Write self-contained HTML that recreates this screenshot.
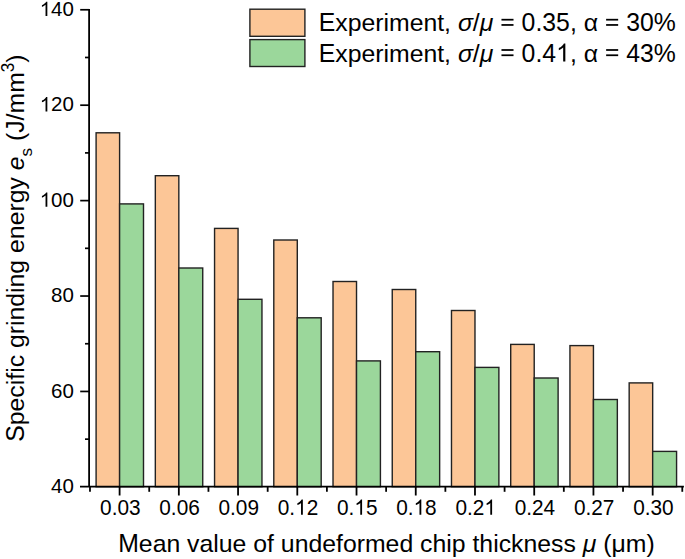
<!DOCTYPE html>
<html><head><meta charset="utf-8"><style>
html,body{margin:0;padding:0;background:#fff;}
svg{display:block;}
text{font-family:"Liberation Sans",sans-serif;fill:#000;white-space:pre;}
</style></head><body>
<svg width="685" height="559" viewBox="0 0 685 559">
<rect x="96.10" y="132.80" width="23.50" height="353.90" fill="#fcc697" stroke="#222" stroke-width="1.4"/>
<rect x="119.60" y="203.90" width="23.90" height="282.80" fill="#9bd79b" stroke="#222" stroke-width="1.4"/>
<rect x="155.33" y="175.70" width="23.50" height="311.00" fill="#fcc697" stroke="#222" stroke-width="1.4"/>
<rect x="178.83" y="268.00" width="23.90" height="218.70" fill="#9bd79b" stroke="#222" stroke-width="1.4"/>
<rect x="214.56" y="228.40" width="23.50" height="258.30" fill="#fcc697" stroke="#222" stroke-width="1.4"/>
<rect x="238.06" y="299.30" width="23.90" height="187.40" fill="#9bd79b" stroke="#222" stroke-width="1.4"/>
<rect x="273.79" y="240.00" width="23.50" height="246.70" fill="#fcc697" stroke="#222" stroke-width="1.4"/>
<rect x="297.29" y="317.80" width="23.90" height="168.90" fill="#9bd79b" stroke="#222" stroke-width="1.4"/>
<rect x="333.02" y="281.50" width="23.50" height="205.20" fill="#fcc697" stroke="#222" stroke-width="1.4"/>
<rect x="356.52" y="360.90" width="23.90" height="125.80" fill="#9bd79b" stroke="#222" stroke-width="1.4"/>
<rect x="392.25" y="289.50" width="23.50" height="197.20" fill="#fcc697" stroke="#222" stroke-width="1.4"/>
<rect x="415.75" y="351.70" width="23.90" height="135.00" fill="#9bd79b" stroke="#222" stroke-width="1.4"/>
<rect x="451.48" y="310.50" width="23.50" height="176.20" fill="#fcc697" stroke="#222" stroke-width="1.4"/>
<rect x="474.98" y="367.40" width="23.90" height="119.30" fill="#9bd79b" stroke="#222" stroke-width="1.4"/>
<rect x="510.71" y="344.40" width="23.50" height="142.30" fill="#fcc697" stroke="#222" stroke-width="1.4"/>
<rect x="534.21" y="378.00" width="23.90" height="108.70" fill="#9bd79b" stroke="#222" stroke-width="1.4"/>
<rect x="569.94" y="345.60" width="23.50" height="141.10" fill="#fcc697" stroke="#222" stroke-width="1.4"/>
<rect x="593.44" y="399.50" width="23.90" height="87.20" fill="#9bd79b" stroke="#222" stroke-width="1.4"/>
<rect x="629.17" y="382.90" width="23.50" height="103.80" fill="#fcc697" stroke="#222" stroke-width="1.4"/>
<rect x="652.67" y="451.40" width="23.90" height="35.30" fill="#9bd79b" stroke="#222" stroke-width="1.4"/>
<line x1="89.1" y1="8.9" x2="89.1" y2="486.7" stroke="#000" stroke-width="1.8"/>
<line x1="80" y1="486.7" x2="683.9" y2="486.7" stroke="#000" stroke-width="1.8"/>
<text transform="translate(51.10,493.07) scale(1,1.0)" font-size="20.5" xml:space="preserve">40</text>
<line x1="85" y1="439.16" x2="89.1" y2="439.16" stroke="#000" stroke-width="1.7"/>
<line x1="80.2" y1="391.45" x2="89.1" y2="391.45" stroke="#000" stroke-width="1.7"/>
<text transform="translate(51.10,397.65) scale(1,1.0)" font-size="20.5" xml:space="preserve">60</text>
<line x1="85" y1="343.74" x2="89.1" y2="343.74" stroke="#000" stroke-width="1.7"/>
<line x1="80.2" y1="296.03" x2="89.1" y2="296.03" stroke="#000" stroke-width="1.7"/>
<text transform="translate(51.10,302.23) scale(1,1.0)" font-size="20.5" xml:space="preserve">80</text>
<line x1="85" y1="248.32" x2="89.1" y2="248.32" stroke="#000" stroke-width="1.7"/>
<line x1="80.2" y1="200.61" x2="89.1" y2="200.61" stroke="#000" stroke-width="1.7"/>
<text transform="translate(39.70,206.81) scale(1,1.0)" font-size="20.5" xml:space="preserve"> 00</text>
<path d="M763 0L583 0L583 1147Q518 1085 415 1024Q312 964 223 931L223 1105Q374 1176 485 1275Q596 1374 646 1466L763 1466Z" transform="translate(39.70,206.81) scale(0.01001,-0.00976)"/>
<line x1="85" y1="152.90" x2="89.1" y2="152.90" stroke="#000" stroke-width="1.7"/>
<line x1="80.2" y1="105.19" x2="89.1" y2="105.19" stroke="#000" stroke-width="1.7"/>
<text transform="translate(39.70,111.39) scale(1,1.0)" font-size="20.5" xml:space="preserve"> 20</text>
<path d="M763 0L583 0L583 1147Q518 1085 415 1024Q312 964 223 931L223 1105Q374 1176 485 1275Q596 1374 646 1466L763 1466Z" transform="translate(39.70,111.39) scale(0.01001,-0.00976)"/>
<line x1="85" y1="57.48" x2="89.1" y2="57.48" stroke="#000" stroke-width="1.7"/>
<line x1="80.2" y1="9.77" x2="89.1" y2="9.77" stroke="#000" stroke-width="1.7"/>
<text transform="translate(39.70,15.97) scale(1,1.0)" font-size="20.5" xml:space="preserve"> 40</text>
<path d="M763 0L583 0L583 1147Q518 1085 415 1024Q312 964 223 931L223 1105Q374 1176 485 1275Q596 1374 646 1466L763 1466Z" transform="translate(39.70,15.97) scale(0.01001,-0.00976)"/>
<line x1="119.60" y1="486.7" x2="119.60" y2="495.5" stroke="#000" stroke-width="1.8"/>
<text transform="translate(100.06,514.70) scale(1,1.04)" font-size="20.8" xml:space="preserve">0.03</text>
<line x1="178.83" y1="486.7" x2="178.83" y2="495.5" stroke="#000" stroke-width="1.8"/>
<text transform="translate(159.29,514.70) scale(1,1.04)" font-size="20.8" xml:space="preserve">0.06</text>
<line x1="238.06" y1="486.7" x2="238.06" y2="495.5" stroke="#000" stroke-width="1.8"/>
<text transform="translate(218.52,514.70) scale(1,1.04)" font-size="20.8" xml:space="preserve">0.09</text>
<line x1="297.29" y1="486.7" x2="297.29" y2="495.5" stroke="#000" stroke-width="1.8"/>
<text transform="translate(277.75,514.70) scale(1,1.04)" font-size="20.8" xml:space="preserve">0. 2</text>
<path d="M763 0L583 0L583 1147Q518 1085 415 1024Q312 964 223 931L223 1105Q374 1176 485 1275Q596 1374 646 1466L763 1466Z" transform="translate(295.10,514.70) scale(0.01016,-0.01030)"/>
<line x1="356.52" y1="486.7" x2="356.52" y2="495.5" stroke="#000" stroke-width="1.8"/>
<text transform="translate(336.98,514.70) scale(1,1.04)" font-size="20.8" xml:space="preserve">0. 5</text>
<path d="M763 0L583 0L583 1147Q518 1085 415 1024Q312 964 223 931L223 1105Q374 1176 485 1275Q596 1374 646 1466L763 1466Z" transform="translate(354.33,514.70) scale(0.01016,-0.01030)"/>
<line x1="415.75" y1="486.7" x2="415.75" y2="495.5" stroke="#000" stroke-width="1.8"/>
<text transform="translate(396.21,514.70) scale(1,1.04)" font-size="20.8" xml:space="preserve">0. 8</text>
<path d="M763 0L583 0L583 1147Q518 1085 415 1024Q312 964 223 931L223 1105Q374 1176 485 1275Q596 1374 646 1466L763 1466Z" transform="translate(413.56,514.70) scale(0.01016,-0.01030)"/>
<line x1="474.98" y1="486.7" x2="474.98" y2="495.5" stroke="#000" stroke-width="1.8"/>
<text transform="translate(455.44,514.70) scale(1,1.04)" font-size="20.8" xml:space="preserve">0.2 </text>
<path d="M763 0L583 0L583 1147Q518 1085 415 1024Q312 964 223 931L223 1105Q374 1176 485 1275Q596 1374 646 1466L763 1466Z" transform="translate(484.35,514.70) scale(0.01016,-0.01030)"/>
<line x1="534.21" y1="486.7" x2="534.21" y2="495.5" stroke="#000" stroke-width="1.8"/>
<text transform="translate(514.67,514.70) scale(1,1.04)" font-size="20.8" xml:space="preserve">0.24</text>
<line x1="593.44" y1="486.7" x2="593.44" y2="495.5" stroke="#000" stroke-width="1.8"/>
<text transform="translate(573.90,514.70) scale(1,1.04)" font-size="20.8" xml:space="preserve">0.27</text>
<line x1="652.67" y1="486.7" x2="652.67" y2="495.5" stroke="#000" stroke-width="1.8"/>
<text transform="translate(633.13,514.70) scale(1,1.04)" font-size="20.8" xml:space="preserve">0.30</text>
<line x1="89.98" y1="486.7" x2="89.98" y2="491.8" stroke="#000" stroke-width="1.8"/>
<line x1="149.22" y1="486.7" x2="149.22" y2="491.8" stroke="#000" stroke-width="1.8"/>
<line x1="208.44" y1="486.7" x2="208.44" y2="491.8" stroke="#000" stroke-width="1.8"/>
<line x1="267.68" y1="486.7" x2="267.68" y2="491.8" stroke="#000" stroke-width="1.8"/>
<line x1="326.90" y1="486.7" x2="326.90" y2="491.8" stroke="#000" stroke-width="1.8"/>
<line x1="386.13" y1="486.7" x2="386.13" y2="491.8" stroke="#000" stroke-width="1.8"/>
<line x1="445.37" y1="486.7" x2="445.37" y2="491.8" stroke="#000" stroke-width="1.8"/>
<line x1="504.59" y1="486.7" x2="504.59" y2="491.8" stroke="#000" stroke-width="1.8"/>
<line x1="563.82" y1="486.7" x2="563.82" y2="491.8" stroke="#000" stroke-width="1.8"/>
<line x1="623.05" y1="486.7" x2="623.05" y2="491.8" stroke="#000" stroke-width="1.8"/>
<line x1="682.28" y1="486.7" x2="682.28" y2="491.8" stroke="#000" stroke-width="1.8"/>
<rect x="249.9" y="9.2" width="55" height="27.1" fill="#fcc697" stroke="#222" stroke-width="1.4"/>
<rect x="249.9" y="39.6" width="55" height="26.9" fill="#9bd79b" stroke="#222" stroke-width="1.4"/>
<text transform="translate(318.70,31.30) scale(1,1.04)" font-size="24.8" xml:space="preserve">E</text>
<text transform="translate(335.25,31.30)" font-size="24.8" xml:space="preserve">xperiment, </text>
<text transform="translate(457.90,31.30)" font-size="24.8" font-style="italic" xml:space="preserve">σ</text>
<text transform="translate(472.87,31.30)" font-size="24.8" xml:space="preserve">/</text>
<text transform="translate(479.76,31.30)" font-size="24.8" font-style="italic" xml:space="preserve">μ</text>
<text transform="translate(493.36,31.30)" font-size="24.8" xml:space="preserve"> </text>
<rect x="501.46" y="18.83" width="12.05" height="1.75"/>
<rect x="501.46" y="24.08" width="12.05" height="1.75"/>
<text transform="translate(514.73,31.30)" font-size="24.8" xml:space="preserve"> </text>
<text transform="translate(521.62,31.30) scale(1,1.04)" font-size="24.8" xml:space="preserve">0.35, </text>
<text transform="translate(583.67,31.30)" font-size="24.8" xml:space="preserve">α</text>
<text transform="translate(598.01,31.30)" font-size="24.8" xml:space="preserve"> </text>
<rect x="606.11" y="18.83" width="12.05" height="1.75"/>
<rect x="606.11" y="24.08" width="12.05" height="1.75"/>
<text transform="translate(619.39,31.30)" font-size="24.8" xml:space="preserve"> </text>
<text transform="translate(626.28,31.30) scale(1,1.04)" font-size="24.8" xml:space="preserve">30%</text>
<text transform="translate(318.70,61.60) scale(1,1.04)" font-size="24.8" xml:space="preserve">E</text>
<text transform="translate(335.25,61.60)" font-size="24.8" xml:space="preserve">xperiment, </text>
<text transform="translate(457.90,61.60)" font-size="24.8" font-style="italic" xml:space="preserve">σ</text>
<text transform="translate(472.87,61.60)" font-size="24.8" xml:space="preserve">/</text>
<text transform="translate(479.76,61.60)" font-size="24.8" font-style="italic" xml:space="preserve">μ</text>
<text transform="translate(493.36,61.60)" font-size="24.8" xml:space="preserve"> </text>
<rect x="501.46" y="49.12" width="12.05" height="1.75"/>
<rect x="501.46" y="54.38" width="12.05" height="1.75"/>
<text transform="translate(514.73,61.60)" font-size="24.8" xml:space="preserve"> </text>
<text transform="translate(521.62,61.60) scale(1,1.04)" font-size="24.8" xml:space="preserve">0.4</text>
<path d="M763 0L583 0L583 1147Q518 1085 415 1024Q312 964 223 931L223 1105Q374 1176 485 1275Q596 1374 646 1466L763 1466Z" transform="translate(556.11,61.60) scale(0.01211,-0.01228)"/>
<text transform="translate(569.90,61.60) scale(1,1.04)" font-size="24.8" xml:space="preserve">, </text>
<text transform="translate(583.68,61.60)" font-size="24.8" xml:space="preserve">α</text>
<text transform="translate(598.03,61.60)" font-size="24.8" xml:space="preserve"> </text>
<rect x="606.13" y="49.12" width="12.05" height="1.75"/>
<rect x="606.13" y="54.38" width="12.05" height="1.75"/>
<text transform="translate(619.40,61.60)" font-size="24.8" xml:space="preserve"> </text>
<text transform="translate(626.29,61.60) scale(1,1.04)" font-size="24.8" xml:space="preserve">43%</text>
<text transform="translate(118.20,551.60) scale(1,1.04)" font-size="24.8" xml:space="preserve">M</text>
<text transform="translate(138.86,551.60)" font-size="24.8" xml:space="preserve">ean value of undeformed chip thickness </text>
<text transform="translate(582.73,551.60)" font-size="24.8" font-style="italic" xml:space="preserve">μ</text>
<text transform="translate(596.33,551.60)" font-size="24.8" xml:space="preserve"> (μm)</text>
<text transform="translate(24.20,441.80) rotate(-90) translate(0.00,0.00) scale(1,1.04)" font-size="24.8" xml:space="preserve">S</text>
<text transform="translate(24.20,441.80) rotate(-90) translate(16.55,0.00)" font-size="24.8" xml:space="preserve">pecific grinding energy </text>
<text transform="translate(24.20,441.80) rotate(-90) translate(271.56,0.00)" font-size="24.8" font-style="italic" xml:space="preserve">e</text>
<text transform="translate(24.20,441.80) rotate(-90) translate(285.36,7.40)" font-size="17" xml:space="preserve">s</text>
<text transform="translate(24.20,441.80) rotate(-90) translate(293.86,0.00)" font-size="24.8" xml:space="preserve"> (</text>
<text transform="translate(24.20,441.80) rotate(-90) translate(309.02,0.00) scale(1,1.04)" font-size="24.8" xml:space="preserve">J</text>
<text transform="translate(24.20,441.80) rotate(-90) translate(321.42,0.00)" font-size="24.8" xml:space="preserve">/mm</text>
<text transform="translate(24.20,441.80) rotate(-90) translate(369.62,-10.30) scale(1,1.04)" font-size="17" xml:space="preserve">3</text>
<text transform="translate(24.20,441.80) rotate(-90) translate(379.09,0.00)" font-size="24.8" xml:space="preserve">)</text>
</svg>
</body></html>
